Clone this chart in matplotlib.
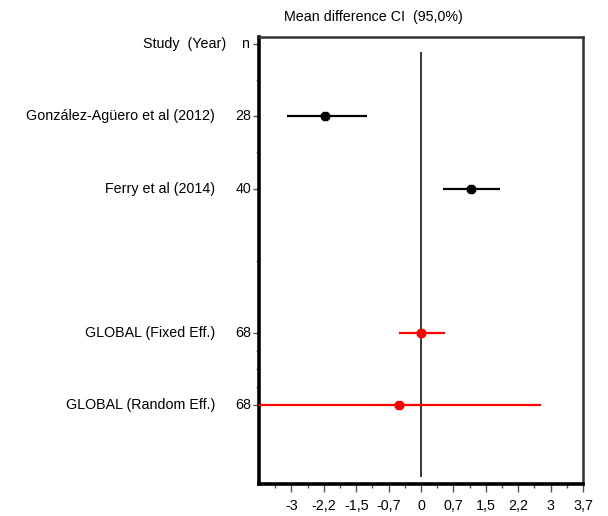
import numpy as np
import matplotlib
matplotlib.use('Agg')
import matplotlib.pyplot as plt
from matplotlib.ticker import FixedLocator

# Forest plot data (mean difference, 95% CI)
studies = ['González-Agüero et al (2012)', 'Ferry et al (2014)',
           'GLOBAL (Fixed Eff.)', 'GLOBAL (Random Eff.)']
n_values = ['28', '40', '68', '68']
rows = [1, 2, 4, 5]
means = [-2.19, 1.14, 0.0, -0.50]
lower = [-3.05, 0.50, -0.50, -3.73]
upper = [-1.23, 1.80, 0.55, 2.73]
colors = ['black', 'black', 'red', 'red']

x_major = [-2.96, -2.22, -1.48, -0.74, 0.0, 0.74, 1.48, 2.22, 2.96, 3.7]
x_labels = ['-3', '-2,2', '-1,5', '-0,7', '0', '0,7', '1,5', '2,2', '3', '3,7']

plt.rcParams['font.family'] = ['Liberation Sans', 'DejaVu Sans']
fs = 10.3

fig = plt.figure(figsize=(6.08, 5.16), dpi=100)
ax = fig.add_axes([259 / 608, 0.062, 324 / 608, 0.866])

for r, m, lo, hi, c in zip(rows, means, lower, upper, colors):
    ax.plot([lo, hi], [r, r], color=c, lw=1.6, solid_capstyle='butt', zorder=3)
    ax.plot(m, r, marker='8', ms=6.5, color=c, zorder=4)

ax.vlines(0, 0.1, 6.0, color='black', lw=1.1, zorder=2)

ax.set_xlim(-3.7, 3.7)
ax.set_ylim(6.1, -0.1)

ax.set_xticks(x_major)
ax.set_xticklabels(x_labels)
ax.xaxis.set_minor_locator(FixedLocator([-3.33, -2.59, -1.85, -1.11, -0.37,
                                         0.37, 1.11, 1.85, 2.59, 3.33]))
ax.tick_params(axis='x', which='major', length=6, width=1, color='#555555',
               labelsize=fs, pad=5)
ax.tick_params(axis='x', which='minor', length=3, width=1, color='#555555')

ax.set_yticks([0, 1, 2, 4, 5])
ax.set_yticklabels([])
ax.yaxis.set_minor_locator(FixedLocator([0.5, 1.5, 3, 4.25, 4.5, 4.75]))
ax.tick_params(axis='y', which='major', length=4, width=1, color='#555555')
ax.tick_params(axis='y', which='minor', length=2, width=1, color='#777777')

ax.spines['left'].set_linewidth(2.6)
ax.spines['bottom'].set_linewidth(2.6)
ax.spines['top'].set_linewidth(1.8)
ax.spines['right'].set_linewidth(1.8)
ax.spines['top'].set_color('#333333')
ax.spines['right'].set_color('#333333')

# Row labels: study name and sample size
trans = ax.get_yaxis_transform()
w = 324
for r, s, n in zip(rows, studies, n_values):
    ax.text(-44 / w, r, s, transform=trans, ha='right', va='center', fontsize=fs)
    ax.text(-8 / w, r, n, transform=trans, ha='right', va='center', fontsize=fs)
ax.text(-33 / w, 0, 'Study  (Year)', transform=trans, ha='right', va='center', fontsize=fs)
ax.text(-10 / w, 0, 'n', transform=trans, ha='right', va='center', fontsize=fs)

fig.text(373 / 608, 1 - 17 / 516, 'Mean difference CI  (95,0%)', ha='center',
         va='center', fontsize=fs)

fig.savefig('out.png', dpi=100)
